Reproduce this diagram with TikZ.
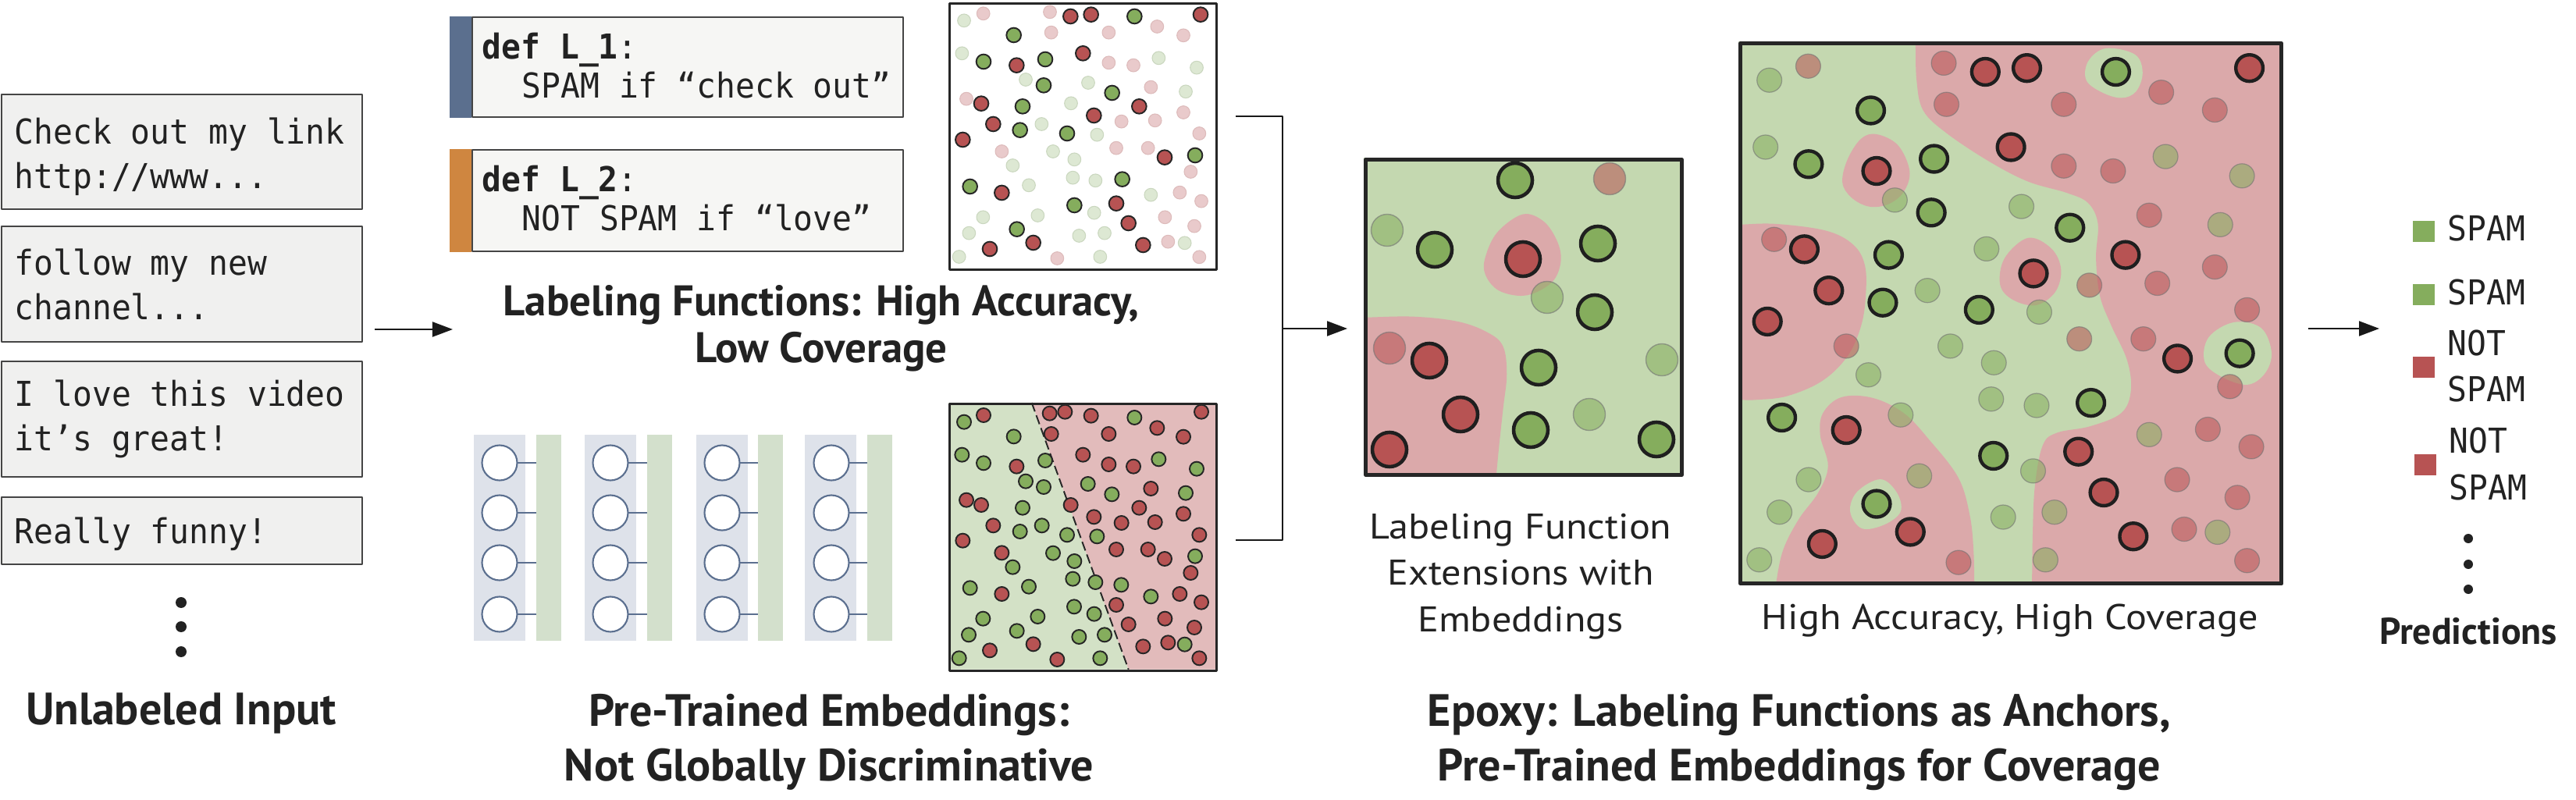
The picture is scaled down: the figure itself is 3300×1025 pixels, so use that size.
\documentclass[tikz,border=0pt]{standalone}
\usepackage{fontspec}
\setmainfont{PT Sans}
\newfontfamily\monof{DejaVu Sans Mono}[FakeStretch=0.94]
\newfontfamily\labf{PT Sans}[FakeStretch=1.1]
\usetikzlibrary{arrows.meta}
\definecolor{txtc}{HTML}{222222}
\definecolor{inputfill}{HTML}{F0F0EF}
\definecolor{boxborder}{HTML}{454545}
\definecolor{lffill}{HTML}{F6F6F4}
\definecolor{lfblue}{HTML}{5B6F8E}
\definecolor{lforange}{HTML}{CF8640}
\definecolor{dkgreen}{HTML}{85AD5D}
\definecolor{dkred}{HTML}{B75353}
\definecolor{bggreen}{HTML}{C4D8B0}
\definecolor{bgpink}{HTML}{DBA9AA}
\definecolor{ltgreen}{HTML}{DDE8D3}
\definecolor{ltgreenb}{HTML}{CAD7BF}
\definecolor{ltpink}{HTML}{E9CACB}
\definecolor{ltpinkb}{HTML}{DDBBBB}
\definecolor{sepgreen}{HTML}{D3E1C6}
\definecolor{seppink}{HTML}{E2BBBB}
\definecolor{nnblue}{HTML}{DEE2EA}
\definecolor{nngreen}{HTML}{D3E0CC}
\definecolor{nnline}{HTML}{5B6F8F}
\newcommand\monosz{\fontsize{12.5}{15}\selectfont}
\newcommand\titsz{\fontsize{16.5}{19}\selectfont}
\newcommand\lftsz{\fontsize{15.6}{18}\selectfont}
\newcommand\predsz{\fontsize{13.6}{16}\selectfont}
\newcommand\labsz{\fontsize{13}{15}\selectfont}
\tikzset{
  inbox/.style={draw=boxborder, fill=inputfill, line width=0.6pt, rectangle, inner sep=0, anchor=north west},
  lfbox/.style={draw=boxborder, fill=lffill, line width=0.6pt, rectangle, inner sep=0, anchor=north west},
  mtext/.style={inner sep=0, anchor=base west, font=\monof\monosz, text=txtc},
  ttl/.style={inner sep=0, anchor=base, font=\bfseries\titsz, text=txtc},
  lab/.style={inner sep=0, anchor=base, font=\labf\labsz, text=txtc},
  conn/.style={line width=0.6pt, draw=black!90},
  arr/.style={conn, -{Triangle[length=2.6mm,width=1.9mm]}},
  sqframe/.style={draw=black!85, rectangle, inner sep=0, anchor=north west},
  tdg/.style={fill=dkgreen, draw=black!85, line width=0.55pt, radius=28},
  tdr/.style={fill=dkred, draw=black!85, line width=0.55pt, radius=28},
  tlg/.style={fill=ltgreen, draw=ltgreenb, line width=0.3pt, radius=25},
  tlp/.style={fill=ltpink, draw=ltpinkb, line width=0.3pt, radius=25},
  bdg/.style={fill=dkgreen, draw=black!85, line width=0.55pt, radius=27},
  bdr/.style={fill=dkred, draw=black!85, line width=0.55pt, radius=27},
  mdg/.style={fill=dkgreen, draw=black!88, line width=1.3pt, radius=22},
  mdr/.style={fill=dkred, draw=black!88, line width=1.3pt, radius=22},
  mfg/.style={fill=dkgreen, fill opacity=0.55, draw=black!55, draw opacity=0.6, line width=0.4pt, radius=20.5},
  mfr/.style={fill=dkred, fill opacity=0.55, draw=black!55, draw opacity=0.6, line width=0.4pt, radius=20.5},
  gdg/.style={fill=dkgreen, draw=black!88, line width=1.25pt, radius=35},
  gdr/.style={fill=dkred, draw=black!88, line width=1.25pt, radius=35},
  gfg/.style={fill=dkgreen, fill opacity=0.55, draw=black!55, draw opacity=0.6, line width=0.35pt, radius=32},
  gfr/.style={fill=dkred, fill opacity=0.55, draw=black!55, draw opacity=0.6, line width=0.35pt, radius=32},
}
\begin{document}
\begin{tikzpicture}[x=0.01cm, y=-0.01cm, line join=round]
\useasboundingbox (0,0) rectangle (3300,1025);

% ---------------- Unlabeled input ----------------
\node[inbox, minimum width=4.62cm, minimum height=1.47cm] (in1) at (1,120) {};
\node[inbox, minimum width=4.62cm, minimum height=1.48cm] (in2) at (1,289) {};
\node[inbox, minimum width=4.62cm, minimum height=1.48cm] (in3) at (1,462) {};
\node[inbox, minimum width=4.62cm, minimum height=0.86cm] (in4) at (1,636) {};
\node[mtext] (in1a) at (18,185) {Check out my link};
\node[mtext] (in1b) at (18,242) {http://www...};
\node[mtext] (in2a) at (18,353) {follow my new};
\node[mtext] (in2b) at (18,410) {channel...};
\node[mtext] (in3a) at (18,521) {I love this video};
\node[mtext] (in3b) at (18,578) {it’s great!};
\node[mtext] (in4a) at (18,697) {Really funny!};
\foreach \yy in {772,803,835} \fill[txtc] (232,\yy) circle[radius=7];
\node[ttl] (tin) at (232,928) {Unlabeled Input};

\coordinate (a1s) at (480,422);
\coordinate (a1e) at (580,422);
\draw[arr] (a1s) -- (a1e);

% ---------------- Labeling functions ----------------
\node[lfbox, minimum width=5.52cm, minimum height=1.28cm] (lf1) at (604,21) {};
\fill[lfblue] (lf1.north west) rectangle ([xshift=-0.28cm]lf1.south west);
\node[lfbox, minimum width=5.52cm, minimum height=1.30cm] (lf2) at (604,191) {};
\fill[lforange] (lf2.north west) rectangle ([xshift=-0.28cm]lf2.south west);
\node[mtext] (lf1a) at (617,76) {\bfseries def L\_1\mdseries:};
\node[mtext] (lf1b) at (668,126) {SPAM if “check out”};
\node[mtext] (lf2a) at (617,246) {\bfseries def L\_2\mdseries:};
\node[mtext] (lf2b) at (668,296) {NOT SPAM if “love”};
\node[ttl, font=\bfseries\lftsz] (tlf1) at (1052,405) {Labeling Functions: High Accuracy,};
\node[ttl, font=\bfseries\lftsz] (tlf2) at (1052,465) {Low Coverage};

% top scatter (sparse)
\begin{scope}[shift={(1200,0)}, scale=0.33333]
  \fill[white] (45,8) rectangle (1071,1029);
  \foreach \x/\y in {105/79, 97/205, 342/306, 582/318, 853/223, 999/260, 957/352, 516/397, 403/477, 616/518, 447/582, 529/613, 292/636, 354/712, 523/683, 610/694, 823/749, 178/835, 388/828, 605/818, 124/896, 547/906, 645/896, 953/934, 86/987, 628/987}
    \draw[tlg] (\x,\y) circle;
  \foreach \x/\y in {179/52, 435/46, 440/125, 661/125, 847/102, 948/136, 661/241, 756/251, 823/335, 114/380, 710/467, 839/463, 948/432, 1009/513, 250/582, 690/569, 812/569, 976/660, 934/740, 1017/773, 877/835, 990/869, 889/929, 463/993, 1009/988}
    \draw[tlp] (\x,\y) circle;
  \foreach \x/\y in {296/135, 760/63, 180/237, 417/228, 411/328, 674/357, 330/409, 320/500, 501/513, 993/597, 128/717, 713/689, 529/789, 308/881}
    \draw[tdg] (\x,\y) circle;
  \foreach \x/\y in {514/63, 593/56, 1014/56, 562/205, 307/251, 171/398, 604/444, 778/409, 217/477, 100/537, 876/605, 250/741, 690/782, 737/858, 371/933, 204/957, 793/942}
    \draw[tdr] (\x,\y) circle;
\end{scope}
\node[sqframe, line width=0.75pt, minimum width=3.42cm, minimum height=3.41cm] (sc1) at (1215,3) {};

% ---------------- Pre-trained embeddings ----------------
\foreach \bx/\gx/\cx in {607/687/640, 749/829/782, 892/971/925, 1031/1111/1065} {
  \fill[nnblue] (\bx,557) rectangle ++(66,264);
  \fill[nngreen] (\gx,557) rectangle ++(32,264);
  \foreach \cy in {593,657,721,787} {
    \draw[nnline, line width=0.5pt] (\cx+23,\cy) -- (\gx,\cy);
    \draw[nnline, line width=0.6pt, fill=white] (\cx,\cy) circle[radius=22.5];
  }
}
% bottom scatter (split)
\begin{scope}[shift={(1200,500)}, scale=0.33333]
  \fill[sepgreen] (45,48) -- (365,48) -- (737,1073) -- (45,1073) -- cycle;
  \fill[seppink] (365,48) -- (1071,48) -- (1071,1073) -- (737,1073) -- cycle;
  \draw[black!85, line width=0.55pt, dash pattern=on 3.4pt off 1.5pt] (365,48) -- (737,1073);
  \foreach \x/\y in {105/122, 296/178, 97/248, 180/280, 417/270, 342/350, 411/372, 330/452, 320/543, 404/520, 501/556, 447/626, 529/657, 292/680, 128/760, 354/755, 523/725, 610/738, 709/748, 528/832, 605/860, 178/878, 388/870, 123/940, 308/925, 547/948, 645/940, 86/1030, 628/1030, 581/360, 673/400, 853/265, 999/302, 957/395, 616/562, 760/105, 993/638, 823/793, 953/977}
    \draw[bdg] (\x,\y) circle;
  \foreach \x/\y in {180/96, 434/89, 493/83, 593/98, 440/168, 661/168, 847/145, 948/179, 1017/83, 562/248, 661/285, 756/293, 307/293, 823/378, 114/422, 171/441, 515/441, 604/487, 778/452, 710/510, 839/507, 948/475, 1009/556, 217/520, 100/578, 250/625, 690/612, 812/612, 876/648, 976/702, 250/783, 934/783, 1017/815, 690/825, 737/900, 877/878, 990/912, 371/976, 204/1000, 793/985, 889/970, 463/1035, 1009/1030}
    \draw[bdr] (\x,\y) circle;
\end{scope}
\node[sqframe, line width=0.75pt, minimum width=3.42cm, minimum height=3.42cm] (sc2) at (1215,516) {};
\node[ttl] (tpe1) at (1062,930) {Pre-Trained Embeddings:};
\node[ttl] (tpe2) at (1062,1000) {Not Globally Discriminative};

% bracket connector
\coordinate (b1) at (1583,149);
\coordinate (b2) at (1643,149);
\coordinate (b3) at (1643,692);
\coordinate (b4) at (1583,692);
\coordinate (bm) at (1643,421);
\coordinate (bme) at (1726,421);
\draw[conn] (b1) -- (b2) -- (b3) -- (b4);
\draw[arr] (bm) -- (bme);

% ---------------- Middle square: LF extensions ----------------
\begin{scope}
  \clip (1747,202) rectangle (2152,606);
  \fill[bggreen] (1747,202) rectangle (2152,606);
  \begin{scope}[shift={(1600,130)}, xscale=0.3831, yscale=0.3571]
    \fill[bgpink] plot[smooth cycle, tension=0.6] coordinates {(915,405) (985,430) (1030,500) (1043,570) (1020,640) (960,685) (900,697) (830,675) (790,620) (790,560) (830,470)};
    \fill[bgpink] plot[smooth, tension=0.6] coordinates {(300,775) (385,775) (550,772) (700,790) (800,830) (850,880) (862,980) (850,1100) (835,1250) (822,1400)} -- (300,1400) -- cycle;
  \end{scope}
\end{scope}
\foreach \x/\y in {1777/295, 1982/381, 2129/461, 2036/531} \draw[mfg] (\x,\y) circle;
\foreach \x/\y in {2062/229, 1780/446} \draw[mfr] (\x,\y) circle;
\foreach \x/\y in {1941/231, 1838/320, 2047/312, 2043/400, 1971/471, 1961/551, 2122/563} \draw[mdg] (\x,\y) circle;
\foreach \x/\y in {1951/332, 1831/462, 1871/531, 1780/576} \draw[mdr] (\x,\y) circle;
\node[sqframe, line width=1.3pt, minimum width=4.05cm, minimum height=4.04cm] (mid) at (1747,202) {};
\node[lab] (tm1) at (1948,691) {Labeling Function};
\node[lab] (tm2) at (1948,750) {Extensions with};
\node[lab] (tm3) at (1948,810) {Embeddings};

% ---------------- Big square: high accuracy, high coverage ----------------
\begin{scope}[shift={(2200,30)}, xscale=0.4975, yscale=0.4847]
  \begin{scope}
    \clip (55,48) rectangle (1447,1475);
    \fill[bggreen] (55,48) rectangle (1447,1475);
    \fill[bgpink] plot[smooth, tension=0.6] coordinates {(505,-40) (510,48) (513,150) (530,230) (590,290) (700,365) (800,418) (900,448) (955,475) (980,530) (975,620) (985,720) (1015,800) (1055,890) (1065,970) (1040,1030) (960,1065) (875,1082) (838,1115) (818,1220) (812,1350) (810,1520)} -- (1520,1520) -- (1520,-40) -- cycle;
    \fill[bgpink] plot[smooth, tension=0.6] coordinates {(20,532) (55,532) (150,530) (280,548) (350,585) (380,640) (382,720) (370,800) (335,880) (270,945) (180,985) (100,995) (55,995) (20,995)} -- cycle;
    \fill[bgpink] plot[smooth, tension=0.6] coordinates {(150,1520) (152,1475) (170,1390) (210,1310) (260,1240) (285,1170) (265,1090) (272,1030) (320,988) (400,990) (480,1030) (545,1100) (620,1200) (650,1300) (660,1400) (662,1520)} -- cycle;
    \fill[bgpink] plot[smooth cycle, tension=0.6] coordinates {(410,293) (465,322) (495,390) (480,445) (440,478) (390,484) (345,460) (322,420) (335,360) (370,305)};
    \fill[bgpink] plot[smooth cycle, tension=0.6] coordinates {(800,567) (860,595) (885,650) (870,710) (820,745) (760,730) (728,690) (740,620)};
    \fill[bggreen] plot[smooth cycle, tension=0.6] coordinates {(1000,66) (1075,82) (1095,130) (1078,180) (1040,197) (990,182) (950,150) (955,100)};
    \fill[bggreen] plot[smooth cycle, tension=0.6] coordinates {(1330,790) (1400,805) (1427,870) (1410,925) (1365,955) (1300,935) (1255,895) (1265,830)};
    \fill[bggreen] plot[smooth cycle, tension=0.6] coordinates {(420,1205) (462,1240) (472,1290) (430,1325) (372,1335) (342,1290) (360,1238)};
  \end{scope}
  \foreach \x/\y in {134/150, 124/327, 457/467, 783/484, 693/596, 541/706, 829/763, 600/853, 712/897, 389/929, 705/993, 822/1010, 472/1035, 235/1206, 160/1292, 108/1418, 736/1305, 813/1183, 1154/352, 1351/403, 1295/532, 1112/1087, 520/1196, 868/1292, 1288/1345, 845/1418}
    \draw[gfg] (\x,\y) circle;
  \foreach \x/\y in {234/113, 958/692, 932/834, 332/853, 583/105, 590/214, 892/214, 1143/182, 1281/229, 892/377, 1019/390, 1112/507, 1281/644, 1133/687, 1364/757, 1097/834, 1320/960, 1263/1073, 1375/1119, 1184/1206, 1339/1253, 1202/1337, 1364/1420, 621/1425, 146/571}
    \draw[gfr] (\x,\y) circle;
  \foreach \x/\y in {395/230, 235/372, 558/358, 551/500, 441/612, 426/738, 674/757, 908/540, 1026/128, 1345/872, 962/1003, 166/1042, 711/1143, 410/1270}
    \draw[gdg] (\x,\y) circle;
  \foreach \x/\y in {690/128, 797/118, 1370/118, 756/327, 410/390, 224/597, 287/706, 129/788, 814/661, 1051/612, 1185/886, 332/1075, 930/1132, 995/1240, 1071/1356, 270/1376, 497/1344}
    \draw[gdr] (\x,\y) circle;
\end{scope}
\node[sqframe, line width=1.4pt, minimum width=6.93cm, minimum height=6.92cm] (big) at (2227,53) {};
\node[lab] (tbig) at (2575,807) {High Accuracy, High Coverage};
\node[ttl] (tep1) at (2305,930) {Epoxy: Labeling Functions as Anchors,};
\node[ttl] (tep2) at (2305,1000) {Pre-Trained Embeddings for Coverage};

% ---------------- Predictions ----------------
\coordinate (a3s) at (2957,421);
\coordinate (a3e) at (3048,421);
\draw[arr] (a3s) -- (a3e);
\fill[dkgreen] (3091,283) rectangle (3119,310);
\fill[dkgreen] (3091,364) rectangle (3119,391);
\fill[dkred] (3091,457) rectangle (3119,484);
\fill[dkred] (3093,582) rectangle (3121,609);
\node[mtext] (p1) at (3135,309) {SPAM};
\node[mtext] (p2) at (3135,391) {SPAM};
\node[mtext] (p3a) at (3135,456) {NOT};
\node[mtext] (p3b) at (3135,515) {SPAM};
\node[mtext] (p4a) at (3137,581) {NOT};
\node[mtext] (p4b) at (3137,641) {SPAM};
\foreach \yy in {690,723,755} \fill[txtc] (3162,\yy) circle[radius=6];
\node[ttl, font=\bfseries\predsz] (tpred) at (3162,825) {Predictions};
\end{tikzpicture}
\end{document}
